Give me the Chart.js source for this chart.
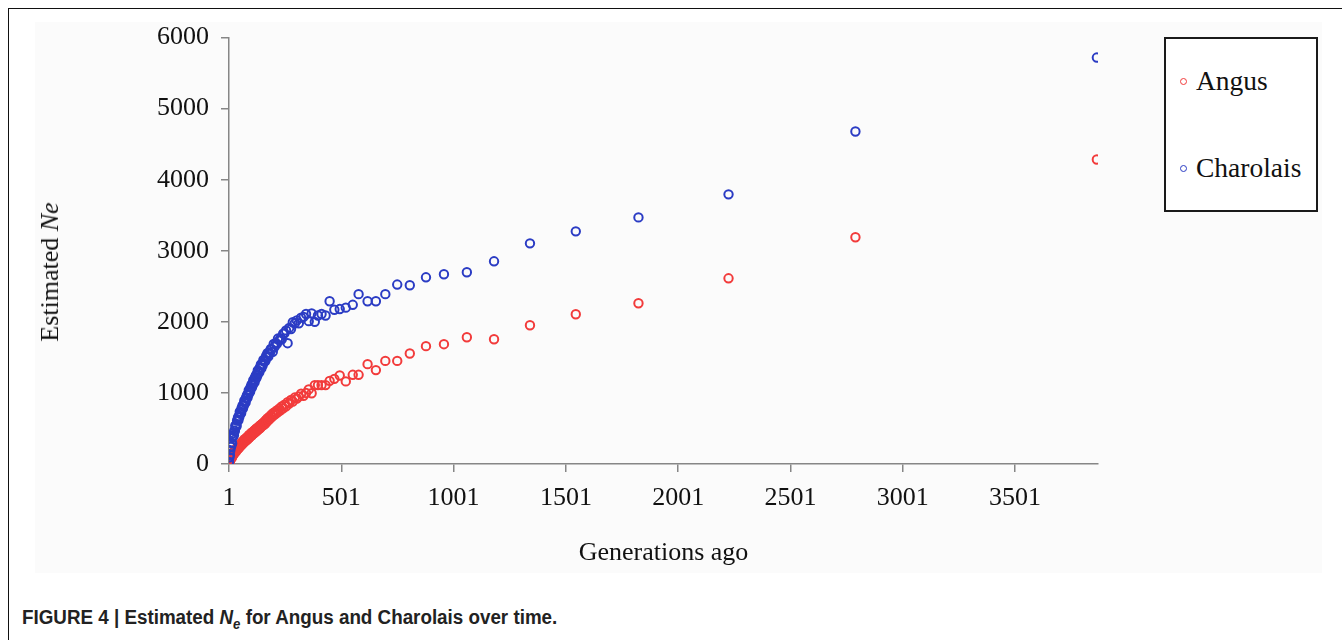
<!DOCTYPE html>
<html>
<head>
<meta charset="utf-8">
<script src="https://cdn.jsdelivr.net/npm/chart.js@4.4.1/dist/chart.umd.min.js"></script>
<style>
  body { margin: 0; background: #fff; width: 1342px; height: 640px; overflow: hidden; position: relative; }
  .frame { position: absolute; left: 8px; top: 8px; width: 1340px; height: 640px; border-left: 1.5px solid #111; border-top: 1.5px solid #111; }
  .plot { position: absolute; left: 35px; top: 22px; width: 1287px; height: 551px; background: #fbfbfb; }
  #chart { position: absolute; left: 35px; top: 10px; }
  .ytitle { position: absolute; left: 50px; top: 272px; transform: translate(-50%, -50%) rotate(-90deg); font-family: "Liberation Serif", serif; font-size: 26px; color: #111; white-space: nowrap; }
  .legend { position: absolute; left: 1164px; top: 37px; width: 150px; height: 171px; border: 2px solid #1a1a1a; background: #fff; font-family: "Liberation Serif", serif; font-size: 27.5px; color: #111; }
  .legend .item { position: absolute; left: 14px; height: 30px; line-height: 30px; white-space: nowrap; }
  .legend .dot { display: inline-block; width: 5px; height: 5px; border-radius: 50%; border: 1.6px solid; margin-right: 9px; vertical-align: middle; position: relative; top: -2px; }
  .caption { position: absolute; left: 22px; top: 606px; font-family: "Liberation Sans", Arial, sans-serif; font-weight: bold; font-size: 20px; color: #222; white-space: nowrap; transform: scaleX(0.94); transform-origin: left center; }
</style>
</head>
<body>
<div class="frame"></div>
<div class="plot"></div>
<canvas id="chart" width="1287" height="563"></canvas>
<div class="ytitle">Estimated <i>Ne</i></div>
<div class="legend">
  <div class="item" style="top: 27px;"><span class="dot" style="border-color:#f23b3b"></span>Angus</div>
  <div class="item" style="top: 114px;"><span class="dot" style="border-color:#2b3cc4"></span>Charolais</div>
</div>
<div class="caption">FIGURE 4 | Estimated <i>N<sub style="font-size:14px">e</sub></i> for Angus and Charolais over time.</div>

<script>
// generations ago (shared by both breeds)
const generations = [
  1, 3, 5, 7, 9, 11, 13, 15, 17, 19, 21, 23, 25, 27, 29, 31, 33, 35, 37, 39,
  41, 43, 45, 47, 49, 51, 53, 55, 57, 59, 61, 63, 65, 67, 69, 71, 73, 75, 77, 79,
  81, 83, 85, 87, 89, 91, 93, 95, 97, 99, 101, 103, 105, 107, 109, 111, 113, 115, 117, 119,
  121, 123, 125, 127, 129, 131, 133, 136, 138, 140, 143, 145, 148, 151, 154, 157, 160, 163, 166, 169,
  172, 176, 179, 183, 187, 191, 196, 200, 204, 209, 214, 219, 225, 230, 236, 242, 248, 255, 262, 269,
  277, 285, 294, 303, 312, 322, 333, 344, 356, 369, 383, 397, 413, 431, 449, 470, 494, 521, 552, 578,
  618, 655, 697, 750, 806, 878, 958, 1060, 1181, 1341, 1545, 1824, 2225, 2790, 3865
];

const angusNe = [
  10, 40, 35, 70, 85, 75, 110, 95, 140, 125, 150, 140, 185, 165, 195, 170, 210, 195, 230, 205,
  245, 220, 255, 235, 280, 250, 280, 265, 300, 275, 315, 290, 320, 300, 345, 315, 345, 325, 365, 340,
  375, 345, 380, 365, 405, 370, 405, 385, 420, 400, 440, 405, 440, 420, 455, 430, 470, 440, 480, 455,
  495, 460, 495, 475, 510, 485, 520, 500, 540, 505, 550, 525, 565, 540, 580, 555, 600, 570, 620, 595,
  640, 615, 660, 635, 685, 660, 710, 685, 730, 705, 755, 730, 780, 755, 810, 785, 835, 810, 870, 850,
  900, 880, 935, 920, 950, 990, 960, 1000, 1050, 995, 1110, 1110, 1110, 1110, 1170, 1198, 1246, 1162, 1255, 1255,
  1405, 1321, 1451, 1451, 1555, 1658, 1686, 1784, 1756, 1953, 2107, 2262, 2613, 3190, 4285
];

const charolaisNe = [
  30, 95, 130, 195, 240, 250, 295, 290, 375, 390, 435, 405, 470, 465, 540, 520, 550, 535, 610, 615,
  655, 615, 675, 660, 735, 705, 730, 715, 785, 785, 820, 780, 835, 820, 890, 860, 885, 865, 935, 935,
  970, 930, 985, 970, 1040, 1010, 1035, 1015, 1080, 1080, 1115, 1075, 1130, 1110, 1180, 1150, 1175, 1150, 1220, 1220,
  1250, 1210, 1265, 1245, 1315, 1280, 1305, 1290, 1355, 1350, 1400, 1345, 1400, 1390, 1465, 1440, 1460, 1450, 1520, 1500,
  1560, 1510, 1570, 1560, 1620, 1615, 1580, 1690, 1650, 1700, 1690, 1765, 1740, 1770, 1755, 1835, 1840, 1880, 1700, 1915,
  1900, 1995, 1980, 2020, 1980, 2060, 2070, 2110, 2010, 2120, 2000, 2090, 2110, 2090, 2290, 2170, 2180, 2200, 2240, 2390,
  2290, 2290, 2390, 2525, 2515, 2627, 2670, 2698, 2852, 3105, 3274, 3470, 3794, 4679, 5719
];

const xTicks = [1, 501, 1001, 1501, 2001, 2501, 3001, 3501];
const yTicks = [0, 1000, 2000, 3000, 4000, 5000, 6000];

const serif = "'Liberation Serif', 'Times New Roman', serif";
const axisGrey = "#868686";

function points(values) {
  return generations.map((g, i) => ({ x: g, y: values[i] }));
}

new Chart(document.getElementById("chart"), {
  type: "scatter",
  data: {
    datasets: [
      {
        label: "Charolais",
        data: points(charolaisNe),
        borderColor: "#2b3cc4",
        backgroundColor: "rgba(255,255,255,0)",
        pointRadius: 4.2,
        pointBorderWidth: 2,
      },
      {
        label: "Angus",
        data: points(angusNe),
        borderColor: "#f23b3b",
        backgroundColor: "rgba(255,255,255,0)",
        pointRadius: 4.2,
        pointBorderWidth: 2,
      },
    ],
  },
  options: {
    responsive: false,
    animation: false,
    layout: { padding: { top: 3, right: 224, left: 0, bottom: 0 } },
    plugins: { legend: { display: false }, tooltip: { enabled: false } },
    scales: {
      x: {
        type: "linear",
        min: 1,
        max: 3870,
        afterBuildTicks: (scale) => {
          scale.ticks = xTicks.map((v) => ({ value: v }));
        },
        afterFit: (scale) => {
          scale.height = 109;
        },
        grid: { drawOnChartArea: false, drawTicks: true, tickLength: 8, color: axisGrey, lineWidth: 1.5 },
        border: { color: axisGrey, width: 1.5 },
        ticks: {
          font: { family: serif, size: 26 },
          color: "#111",
          padding: 11,
          maxRotation: 0,
          callback: (v) => String(v),
        },
        title: {
          display: true,
          text: "Generations ago",
          font: { family: serif, size: 26 },
          color: "#111",
          padding: { top: 0, bottom: 4 },
        },
      },
      y: {
        min: 0,
        max: 6000,
        afterBuildTicks: (scale) => {
          scale.ticks = yTicks.map((v) => ({ value: v }));
        },
        afterFit: (scale) => {
          scale.width = 194;
        },
        grid: { drawOnChartArea: false, drawTicks: true, tickLength: 8, color: axisGrey, lineWidth: 1.5 },
        border: { color: axisGrey, width: 1.5 },
        ticks: {
          font: { family: serif, size: 26 },
          color: "#111",
          padding: 12,
          callback: (v) => String(v),
        },
      },
    },
  },
});
</script>
</body>
</html>
